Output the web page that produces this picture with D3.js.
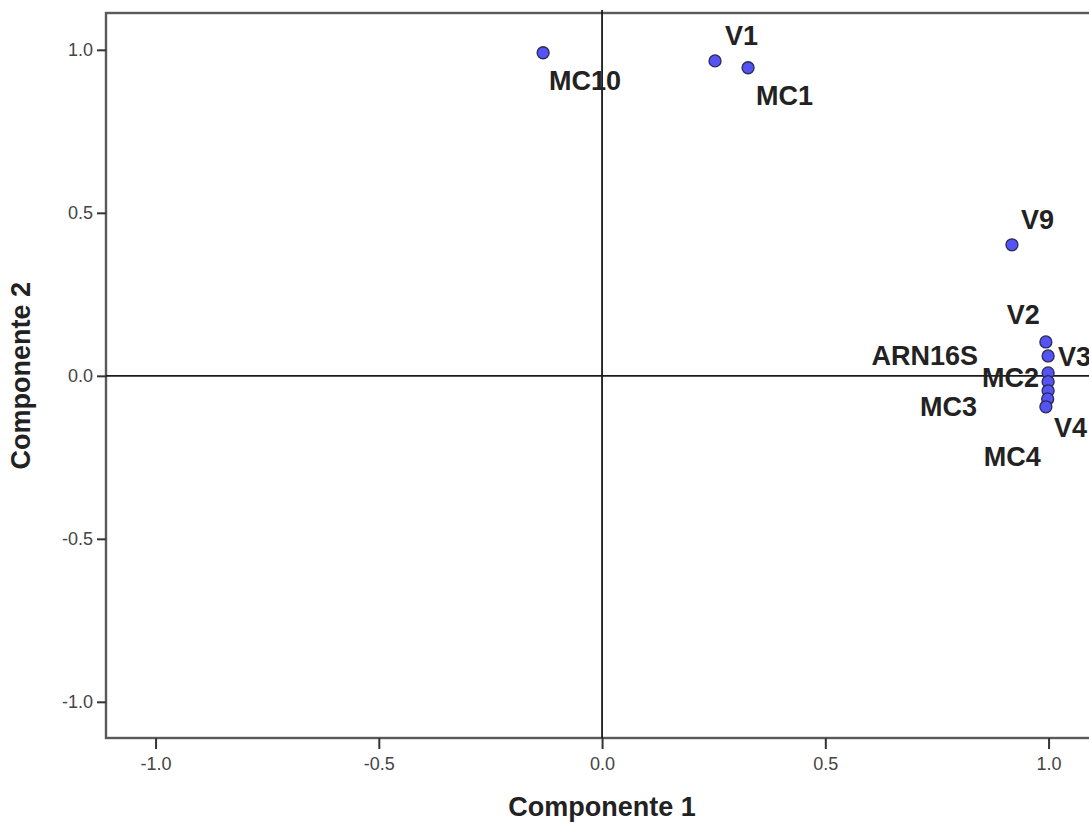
<!DOCTYPE html>
<html>
<head>
<meta charset="utf-8">
<script src="https://cdn.jsdelivr.net/npm/d3@7"></script>
<style>
  html, body { margin: 0; padding: 0; background: #fff; }
  svg { display: block; }
  text { font-family: "Liberation Sans", Arial, sans-serif; }
</style>
</head>
<body>
<svg id="chart" width="1089" height="823"></svg>
<script>
// ---- data ----
const names = ["MC10", "V1", "MC1", "V9", "V2", "V3", "ARN16S", "MC2", "MC3", "MC4", "V4"];
const comp1 = [-0.132, 0.253, 0.327, 0.918, 0.994, 0.999, 0.999, 0.999, 0.999, 0.998, 0.994];
const comp2 = [0.991, 0.966, 0.945, 0.402, 0.104, 0.061, 0.009, -0.018, -0.046, -0.071, -0.095];
const tickValues = [-1.0, -0.5, 0.0, 0.5, 1.0];
const tickLabels = ["-1.0", "-0.5", "0.0", "0.5", "1.0"];
const xTitle = "Componente 1";
const yTitle = "Componente 2";

// label placement (styling, px offsets from point)
const labelPlace = {
  "MC10":   {dx: 6,   dy: 37,  anchor: "start"},
  "V1":     {dx: 10,  dy: -16, anchor: "start"},
  "MC1":    {dx: 8,   dy: 37,  anchor: "start"},
  "V9":     {dx: 9,   dy: -16, anchor: "start"},
  "V2":     {dx: -6,  dy: -18, anchor: "end"},
  "V3":     {dx: 10,  dy: 10,  anchor: "start"},
  "ARN16S": {dx: -70, dy: -8,  anchor: "end"},
  "MC2":    {dx: -9,  dy: 5,   anchor: "end"},
  "MC3":    {dx: -71, dy: 25,  anchor: "end"},
  "MC4":    {dx: -7,  dy: 67,  anchor: "end"},
  "V4":     {dx: 8,   dy: 30,  anchor: "start"}
};

const points = names.map((n, i) => ({name: n, x: comp1[i], y: comp2[i]}));

const svg = d3.select("#chart");
const mLeft = 106, mTop = 13, mBottom = 738;
const x = d3.scaleLinear().domain([-1.111, 1.111]).range([mLeft, mLeft + 2.222 * 446.5]);
const y = d3.scaleLinear().domain([-1.111, 1.113]).range([mBottom, mTop]);
const mRight = x(1.111);
const fmt = d => tickLabels[tickValues.indexOf(d)];

// frame
svg.append("rect")
  .attr("x", mLeft).attr("y", mTop)
  .attr("width", mRight - mLeft).attr("height", mBottom - mTop)
  .attr("fill", "none").attr("stroke", "#5a5a5a").attr("stroke-width", 2.4);

// zero lines
svg.append("line")
  .attr("x1", x(0)).attr("x2", x(0)).attr("y1", mTop - 3).attr("y2", mBottom)
  .attr("stroke", "#1a1a1a").attr("stroke-width", 1.8);
svg.append("line")
  .attr("x1", mLeft).attr("x2", mRight).attr("y1", y(0)).attr("y2", y(0))
  .attr("stroke", "#1a1a1a").attr("stroke-width", 1.8);

// axes
const xAxis = d3.axisBottom(x).tickValues(tickValues).tickFormat(fmt).tickSize(11).tickSizeOuter(0);
const gx = svg.append("g").attr("transform", `translate(0,${mBottom})`).call(xAxis);
gx.select(".domain").remove();
gx.selectAll(".tick line").attr("stroke", "#333").attr("stroke-width", 2);
gx.selectAll(".tick text").attr("font-size", 18).attr("fill", "#444")
  .attr("font-family", "Liberation Sans, Arial, sans-serif").attr("dy", "1.05em").attr("y", 13);

const yAxis = d3.axisLeft(y).tickValues(tickValues).tickFormat(fmt).tickSize(9).tickSizeOuter(0);
const gy = svg.append("g").attr("transform", `translate(${mLeft},0)`).call(yAxis);
gy.select(".domain").remove();
gy.selectAll(".tick line").attr("stroke", "#333").attr("stroke-width", 2);
gy.selectAll(".tick text").attr("font-size", 18).attr("fill", "#444")
  .attr("font-family", "Liberation Sans, Arial, sans-serif").attr("x", -13);

// axis titles
svg.append("text")
  .attr("x", x(0)).attr("y", 816)
  .attr("text-anchor", "middle").attr("font-size", 27).attr("font-weight", "bold").attr("fill", "#222")
  .text(xTitle);
svg.append("text")
  .attr("transform", `translate(30,${y(0)}) rotate(-90)`)
  .attr("text-anchor", "middle").attr("font-size", 27).attr("font-weight", "bold").attr("fill", "#222")
  .text(yTitle);

// points
svg.append("g").selectAll("circle").data(points).join("circle")
  .attr("cx", d => x(d.x)).attr("cy", d => y(d.y)).attr("r", 6)
  .attr("fill", "#5454f4").attr("stroke", "#2a2a55").attr("stroke-width", 1.3);

// labels
svg.append("g").selectAll("text").data(points).join("text")
  .attr("x", d => x(d.x) + labelPlace[d.name].dx)
  .attr("y", d => y(d.y) + labelPlace[d.name].dy)
  .attr("text-anchor", d => labelPlace[d.name].anchor)
  .attr("font-size", 27).attr("font-weight", "bold").attr("fill", "#222")
  .text(d => d.name);
</script>
</body>
</html>
